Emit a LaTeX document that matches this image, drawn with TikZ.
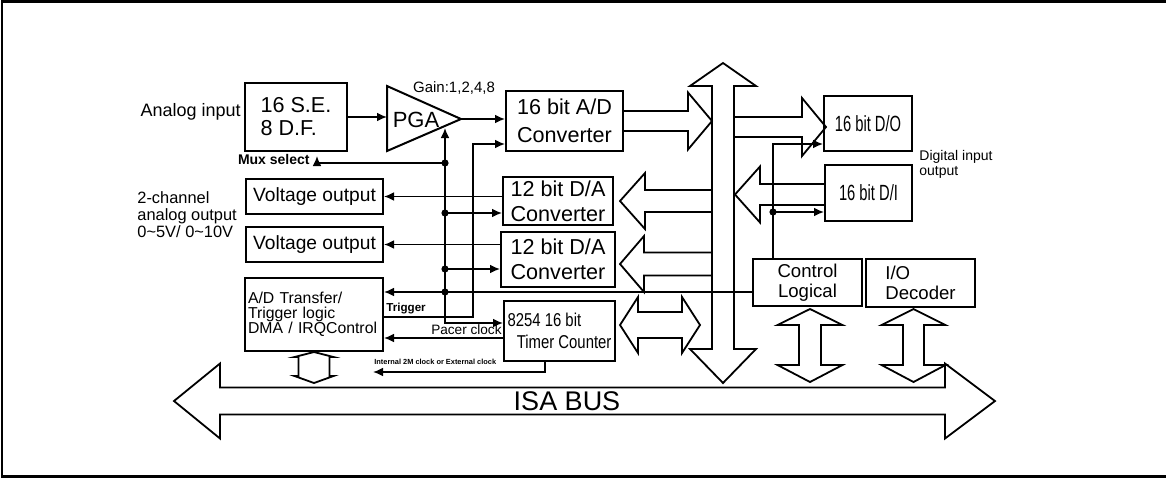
\documentclass[tikz,border=0pt]{standalone}
\usepackage{fontspec}
\setmainfont{Liberation Sans}
\newfontfamily\narrowfont[FakeStretch=0.8]{Liberation Sans}
\newfontfamily\narrowerfont[FakeStretch=0.67]{Liberation Sans}
\usetikzlibrary{arrows.meta,calc}
\newcommand{\pxu}{0.5pt}
\newcommand{\fsz}[2]{\fontsize{#1}{#2}\selectfont}
% hollow arrows: tail, back, apex, centre, shaft half, head half
\newcommand{\hfat}[6]{\draw[fat] (#1,#4-#5) -- (#2,#4-#5) -- (#2,#4-#6) -- (#3,#4) -- (#2,#4+#6) -- (#2,#4+#5) -- (#1,#4+#5);}
\newcommand{\hdbl}[7]{\draw[fat] (#1,#5) -- (#2,#5-#7) -- (#2,#5-#6) -- (#3,#5-#6) -- (#3,#5-#7) -- (#4,#5) -- (#3,#5+#7) -- (#3,#5+#6) -- (#2,#5+#6) -- (#2,#5+#7) -- cycle;}
\newcommand{\vdbl}[7]{\draw[fat] (#5,#1) -- (#5-#7,#2) -- (#5-#6,#2) -- (#5-#6,#3) -- (#5-#7,#3) -- (#5,#4) -- (#5+#7,#3) -- (#5+#6,#3) -- (#5+#6,#2) -- (#5+#7,#2) -- cycle;}
\tikzset{
blk/.style={
  draw,
  line width=1pt,
  inner sep=1pt,
  align=center
},
sig/.style={
  -{Latex[length=5pt,width=4.4pt]},
  line width=0.8pt
},
sigboth/.style={
  {Latex[length=5pt,width=4.4pt]}-{Latex[length=5pt,width=4.4pt]},
  line width=0.8pt
},
fat/.style={
  line width=0.9pt,
  line join=miter
},
lbl/.style={
  inner sep=0pt,
  align=left
}
}

\begin{document}
\begin{tikzpicture}[x=0.5pt, y=-0.5pt]
  \useasboundingbox (0,0) rectangle (1166,479);
  \draw[line width=1.2pt] (1166,1.5) -- (2,1.5) -- (2,476.5) -- (1166,476.5);

  % blocks
  \node[blk, minimum width=102*\pxu, minimum height=68*\pxu, align=left, font=\fsz{10.8}{11.5}] (mux) at (296,117) {16 S.E.\\8 D.F.};
  \node[blk, minimum width=117*\pxu, minimum height=60*\pxu, font=\fsz{10.8}{14}] (adc) at (564.5,121) {16 bit A/D\\Converter};
  \node[blk, minimum width=110*\pxu, minimum height=48*\pxu, font=\fsz{10.8}{12.5}] (da1) at (558,201) {12 bit D/A\\Converter};
  \node[blk, minimum width=114*\pxu, minimum height=55*\pxu, font=\fsz{10.8}{12.5}] (da2) at (558,259.5) {12 bit D/A\\Converter};
  \node[blk, minimum width=111*\pxu, minimum height=60*\pxu, align=left, font=\narrowfont\fsz{9.3}{11}] (timer) at (559.5,331) {8254 16 bit\\\hspace*{0.5em}Timer Counter};
  \node[blk, minimum width=137*\pxu, minimum height=35*\pxu, font=\fsz{9.6}{11}] (vout1) at (314.5,196.5) {Voltage output};
  \node[blk, minimum width=137*\pxu, minimum height=35*\pxu, font=\fsz{9.6}{11}] (vout2) at (314.5,244.5) {Voltage output};
  \node[blk, minimum width=138*\pxu, minimum height=73*\pxu, text width=132*\pxu, align=left, font=\fsz{7.9}{7.6}] (adtr) at (314,314.5) {A/D Transfer/\\Trigger logic\\DMA / IRQControl};
  \node[blk, minimum width=88*\pxu, minimum height=55*\pxu, font=\narrowerfont\fsz{11}{12}] (dout) at (868,123.5) {16 bit D/O};
  \node[blk, minimum width=87*\pxu, minimum height=56*\pxu, font=\narrowerfont\fsz{11}{12}] (din) at (868.5,193) {16 bit D/I};
  \node[blk, minimum width=109*\pxu, minimum height=47*\pxu, font=\fsz{9.3}{9.8}] (ctrl) at (807.5,282.5) {Control\\Logical};
  \node[blk, minimum width=109*\pxu, minimum height=48*\pxu, align=left, font=\fsz{9.3}{9.8}] (iodec) at (920.5,283) {I/O\\Decoder};

  % amplifier
  \draw[line width=1pt] (387,86) -- (461,119) -- (387,151) -- cycle;
  \node[font=\fsz{11}{12}, inner sep=0pt] (pga) at (416,120) {PGA};
  \coordinate (pgaL) at (387,117);
  \coordinate (pgaR) at (461,119);

  % labels
  \node[lbl, anchor=east, font=\fsz{9}{11}] (ain) at (241,112) {Analog input};
  \node[lbl, font=\fsz{7.5}{9}] (gain) at (454,88) {Gain:1,2,4,8};
  \node[lbl, anchor=east, font=\bfseries\fsz{7}{9}] (muxlbl) at (310,159) {Mux select};
  \node[lbl, anchor=west, font=\fsz{8.2}{8.5}] (aout) at (137,215) {2-channel\\analog output\\0\textasciitilde5V/ 0\textasciitilde10V};
  \node[lbl, anchor=west, font=\bfseries\fsz{5.8}{7}] (trglbl) at (386,309) {Trigger};
  \node[lbl, anchor=east, font=\fsz{6.8}{8}] (pclbl) at (502,330) {Pacer clock};
  \node[lbl, anchor=south west, font=\bfseries\fsz{3.7}{4.5}] (clklbl) at (374,365) {Internal 2M clock or External clock};
  \node[lbl, anchor=west, font=\fsz{7}{7.5}] (diglbl) at (919,164.5) {Digital input\\output};

  % control lines
  \coordinate (gtip) at (445,128);
  \coordinate (jmux) at (445,163);
  \coordinate (jda1) at (445,213);
  \coordinate (jda2) at (445,269);
  \coordinate (jctl) at (445,292);
  \coordinate (jtmr) at (445,323);
  \coordinate (msel) at (317,163);
  \coordinate (trg) at (473,317);
  \coordinate (adin) at (473,144);
  \coordinate (pacer) at (0,338);
  \coordinate (clk) at (545,372);
  \coordinate (clkend) at (373,372);
  \coordinate (dsel) at (773,144);
  \coordinate (jdi) at (773,212);

  \draw[sig] (mux.east) -- (pgaL);
  \draw[sig] (pgaR) -- (pgaR -| adc.west);
  \draw[sigboth] (gtip) -- (jtmr) -- (jtmr -| timer.west);
  \draw[sig, shorten >=2pt] (jmux) -- (msel) -- (msel |- mux.south);
  \draw[sig] (jda1) -- (jda1 -| da1.west);
  \draw[sig] (jda2) -- (jda2 -| da2.west);
  \draw[sig] (da1.west |- vout1.east) -- (vout1.east);
  \draw[sig] (da2.west |- vout2.east) -- (vout2.east);
  \draw[sig] (jctl -| ctrl.west) -- (jctl -| adtr.east);
  \draw[sig] (trg -| adtr.east) -- (trg) -- (adin) -- (adin -| adc.west);
  \draw[sig] (pacer -| timer.west) -- (pacer -| adtr.east);
  \draw[sig] (timer.south -| clk) -- (clk) -- (clkend);
  \draw[sig] (ctrl.north -| dsel) -- (dsel) -- (dsel -| dout.west);
  \draw[sig] (jdi) -- (jdi -| din.west);
  \foreach \j in {jmux,jda1,jda2,jctl,jdi}
    \fill (\j) circle[radius=1.8pt];

  % buses
  \vdbl{63}{86}{349}{383}{723}{11}{33}
  \hdbl{174}{220}{945}{995}{401}{13.5}{37.5}
  \node[font=\fsz{13.5}{15}, inner sep=0pt] (isa) at (567,401) {ISA BUS};
  \hfat{623}{688}{712}{121}{10}{28.5}
  \hfat{734}{802}{826}{127}{10}{29}
  \hfat{825}{760}{735}{194.5}{10.5}{28}
  \hfat{712}{645}{620}{201}{11}{28}
  \hfat{712}{644}{620}{264}{11.5}{28}
  \hdbl{620}{638}{682}{700}{325}{13}{28}
  \vdbl{309}{325}{365}{382}{810}{11}{32.5}
  \vdbl{309}{325}{365}{382}{913.5}{10.5}{32}
  \vdbl{352}{357}{376}{383}{314}{15.5}{19.5}
\end{tikzpicture}
\end{document}
